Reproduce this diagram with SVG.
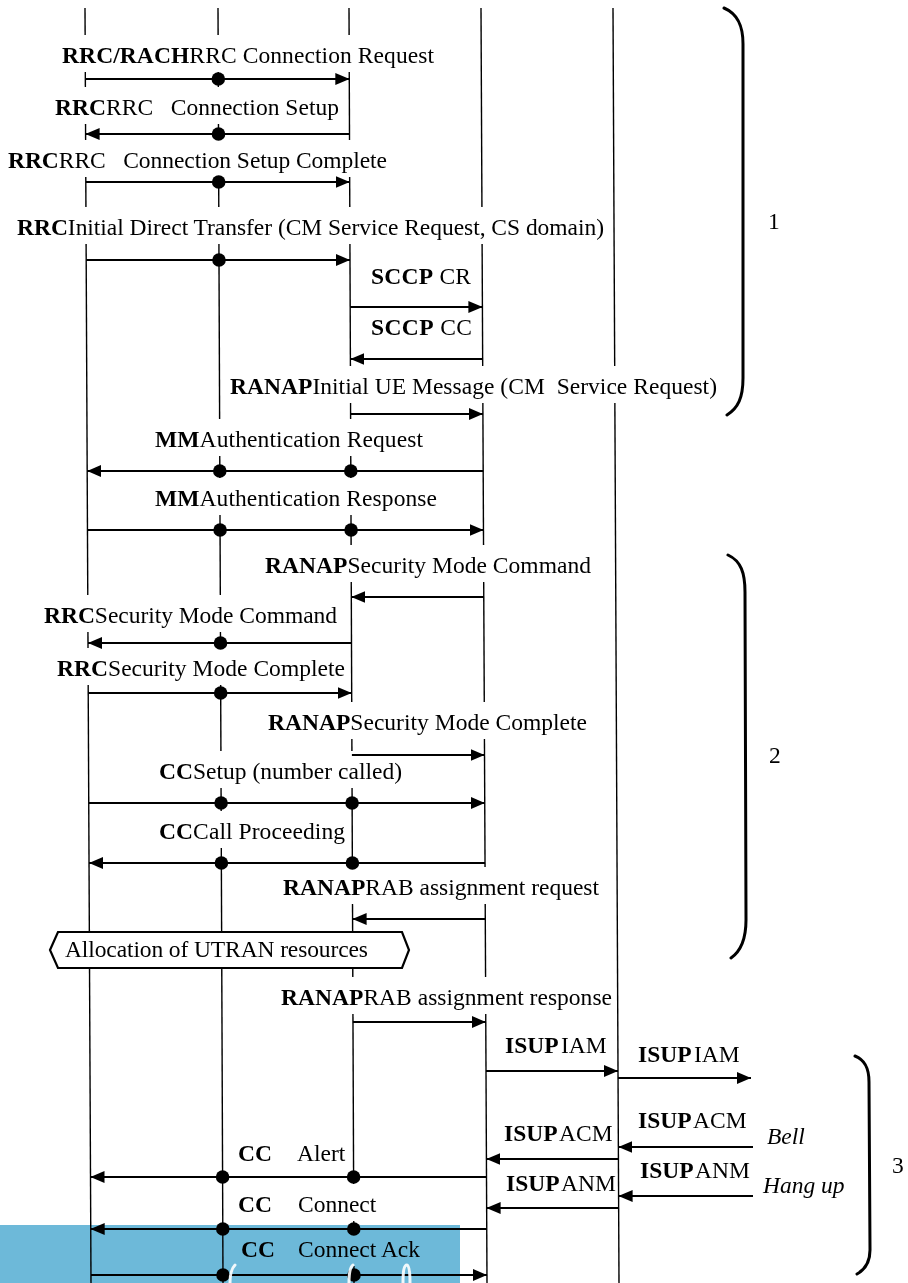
<svg xmlns="http://www.w3.org/2000/svg" width="908" height="1283" viewBox="0 0 908 1283">
  <defs>
    <marker id="ah" markerUnits="userSpaceOnUse" markerWidth="14" markerHeight="12" refX="14" refY="6" orient="auto">
      <path d="M0,0 L14,6 L0,12 z" fill="#000"/>
    </marker>
    <style>
      .ll { stroke: #000; stroke-width: 1.4; }
      .msg { stroke: #000; stroke-width: 2; fill: none; marker-end: url(#ah); }
      .dot { fill: #000; }
      .bg { fill: #fff; }
      text { font-family: "Liberation Serif", "Times New Roman", serif; font-size: 23.5px; fill: #000; }
      .b { font-weight: bold; }
      .i { font-style: italic; }
      .brace { fill: none; stroke: #000; stroke-width: 3; stroke-linecap: round; }
      .hex { fill: #fff; stroke: #000; stroke-width: 2.2; }
    </style>
  </defs>
  <rect width="908" height="1283" fill="#fff"/>

  <!-- lifelines (slightly skewed as printed) -->
  <g id="lifelines">
    <line id="ll-ue" class="ll" x1="85" y1="8" x2="91" y2="1283"/>
    <line id="ll-nodeb" class="ll" x1="218" y1="8" x2="223" y2="1283"/>
    <line id="ll-rnc" class="ll" x1="349" y1="8" x2="354" y2="1283"/>
    <line id="ll-msc" class="ll" x1="481" y1="8" x2="487" y2="1283"/>
    <line id="ll-gmsc" class="ll" x1="613" y1="8" x2="619" y2="1283"/>
  </g>

  <!-- message labels -->
  <g id="m1"><rect class="bg" x="59" y="35" width="378" height="37"/>
    <text x="62" y="63" textLength="372"><tspan class="b">RRC/RACH</tspan>RRC Connection Request</text></g>
  <g id="m2"><rect class="bg" x="52" y="87" width="290" height="37"/>
    <text x="55" y="115" textLength="284"><tspan class="b">RRC</tspan>RRC&#160;&#160;&#160;Connection Setup</text></g>
  <g id="m3"><rect class="bg" x="5" y="140" width="385" height="37"/>
    <text x="8" y="168" textLength="379"><tspan class="b">RRC</tspan>RRC&#160;&#160;&#160;Connection Setup Complete</text></g>
  <g id="m4"><rect class="bg" x="14" y="207" width="593" height="37"/>
    <text x="17" y="235" textLength="587"><tspan class="b">RRC</tspan>Initial Direct Transfer (CM Service Request, CS domain)</text></g>
  <g id="m5"><text x="371" y="284" textLength="100"><tspan class="b">SCCP</tspan> CR</text></g>
  <g id="m6"><text x="371" y="335" textLength="101"><tspan class="b">SCCP</tspan> CC</text></g>
  <g id="m7"><rect class="bg" x="227" y="366" width="493" height="37"/>
    <text x="230" y="394" textLength="487"><tspan class="b">RANAP</tspan>Initial UE Message (CM&#160; Service Request)</text></g>
  <g id="m8"><rect class="bg" x="152" y="419" width="274" height="37"/>
    <text x="155" y="447" textLength="268"><tspan class="b">MM</tspan>Authentication Request</text></g>
  <g id="m9"><rect class="bg" x="152" y="478" width="288" height="37"/>
    <text x="155" y="506" textLength="282"><tspan class="b">MM</tspan>Authentication Response</text></g>
  <g id="m10"><rect class="bg" x="262" y="545" width="332" height="37"/>
    <text x="265" y="573" textLength="326"><tspan class="b">RANAP</tspan>Security Mode Command</text></g>
  <g id="m11"><rect class="bg" x="41" y="595" width="299" height="37"/>
    <text x="44" y="623" textLength="293"><tspan class="b">RRC</tspan>Security Mode Command</text></g>
  <g id="m12"><rect class="bg" x="54" y="648" width="294" height="37"/>
    <text x="57" y="676" textLength="288"><tspan class="b">RRC</tspan>Security Mode Complete</text></g>
  <g id="m13"><rect class="bg" x="265" y="702" width="325" height="37"/>
    <text x="268" y="730" textLength="319"><tspan class="b">RANAP</tspan>Security Mode Complete</text></g>
  <g id="m14"><rect class="bg" x="156" y="751" width="249" height="37"/>
    <text x="159" y="779" textLength="243"><tspan class="b">CC</tspan>Setup (number called)</text></g>
  <g id="m15"><rect class="bg" x="156" y="811" width="192" height="37"/>
    <text x="159" y="839" textLength="186"><tspan class="b">CC</tspan>Call Proceeding</text></g>
  <g id="m16"><rect class="bg" x="280" y="867" width="322" height="37"/>
    <text x="283" y="895" textLength="316"><tspan class="b">RANAP</tspan>RAB assignment request</text></g>
  <g id="utran-alloc">
    <polygon class="hex" points="50,950 58,932 402,932 409,950 402,968 58,968"/>
    <text x="65" y="957" textLength="303">Allocation of UTRAN resources</text>
  </g>
  <g id="m18"><rect class="bg" x="278" y="977" width="337" height="37"/>
    <text x="281" y="1005" textLength="331"><tspan class="b">RANAP</tspan>RAB assignment response</text></g>
  <g id="m19"><text class="b" x="505" y="1053">ISUP</text><text x="561" y="1053">IAM</text></g>
  <g id="m20"><text class="b" x="638" y="1062">ISUP</text><text x="694" y="1062">IAM</text></g>
  <g id="m21"><text class="b" x="638" y="1128">ISUP</text><text x="693" y="1128">ACM</text></g>
  <g id="bell"><text class="i" x="767" y="1144">Bell</text></g>
  <g id="m23"><text class="b" x="504" y="1141">ISUP</text><text x="559" y="1141">ACM</text></g>
  <g id="m24"><text class="b" x="640" y="1178">ISUP</text><text x="695" y="1178">ANM</text></g>
  <g id="hangup"><text class="i" x="763" y="1193">Hang up</text></g>
  <g id="m26"><text class="b" x="506" y="1191">ISUP</text><text x="561" y="1191">ANM</text></g>
  <g id="m27"><text class="b" x="238" y="1161">CC</text><text x="297" y="1161">Alert</text></g>
  <g id="m28"><rect class="bg" x="295" y="1184" width="83" height="37"/>
    <text class="b" x="238" y="1212">CC</text><text x="298" y="1212">Connect</text></g>
  <g id="m29"><rect class="bg" x="295" y="1229" width="126" height="37"/>
    <text class="b" x="241" y="1257">CC</text><text x="298" y="1257">Connect Ack</text></g>

  <!-- message arrows and relay points -->
  <g id="connectors">
    <path class="msg" d="M85.4,79 H349.3"/>
    <path class="msg" d="M349.5,134 H85.6"/>
    <path class="msg" d="M85.9,182 H349.7"/>
    <path class="msg" d="M86.2,260 H350"/>
    <path class="msg" d="M350.2,307 H482.4"/>
    <path class="msg" d="M482.7,359 H350.4"/>
    <path class="msg" d="M350.6,414 H482.9"/>
    <path class="msg" d="M483.2,471 H87.2"/>
    <path class="msg" d="M87.5,530 H483.5"/>
    <path class="msg" d="M483.8,597 H351.3"/>
    <path class="msg" d="M351.5,643 H88"/>
    <path class="msg" d="M88.2,693 H351.7"/>
    <path class="msg" d="M351.9,755 H484.5"/>
    <path class="msg" d="M88.8,803 H484.8"/>
    <path class="msg" d="M485,863 H89"/>
    <path class="msg" d="M485.3,919 H352.6"/>
    <path class="msg" d="M353,1022 H485.8"/>
    <path class="msg" d="M486,1071 H618"/>
    <path class="msg" d="M618,1078 H751"/>
    <path class="msg" d="M753,1147 H618.4"/>
    <path class="msg" d="M618.4,1159 H486.4"/>
    <path class="msg" d="M486.5,1177 H90.5"/>
    <path class="msg" d="M753,1196 H618.6"/>
    <path class="msg" d="M618.6,1208 H486.6"/>
    <path class="msg" d="M486.7,1229 H90.7"/>
    <path class="msg" d="M91,1275 H487"/>

    <circle class="dot" cx="218.3" cy="79" r="6.8"/>
    <circle class="dot" cx="218.5" cy="134" r="6.8"/>
    <circle class="dot" cx="218.7" cy="182" r="6.8"/>
    <circle class="dot" cx="219" cy="260" r="6.8"/>
    <circle class="dot" cx="219.8" cy="471" r="6.8"/>
    <circle class="dot" cx="350.8" cy="471" r="6.8"/>
    <circle class="dot" cx="220.1" cy="530" r="6.8"/>
    <circle class="dot" cx="351.1" cy="530" r="6.8"/>
    <circle class="dot" cx="220.5" cy="643" r="6.8"/>
    <circle class="dot" cx="220.7" cy="693" r="6.8"/>
    <circle class="dot" cx="221.1" cy="803" r="6.8"/>
    <circle class="dot" cx="352.1" cy="803" r="6.8"/>
    <circle class="dot" cx="221.4" cy="863" r="6.8"/>
    <circle class="dot" cx="352.4" cy="863" r="6.8"/>
    <circle class="dot" cx="222.6" cy="1177" r="6.8"/>
    <circle class="dot" cx="353.6" cy="1177" r="6.8"/>
    <circle class="dot" cx="222.8" cy="1229" r="6.8"/>
    <circle class="dot" cx="353.8" cy="1229" r="6.8"/>
    <circle class="dot" cx="223" cy="1275" r="6.8"/>
    <circle class="dot" cx="354" cy="1275" r="6.8"/>
  </g>

  <!-- phase braces -->
  <g id="phase-1">
    <path class="brace" d="M724,8 C738,14 743,26 743,44 L743,378 C743,398 738,408 727,415"/>
    <text x="768" y="229">1</text>
  </g>
  <g id="phase-2">
    <path class="brace" d="M728,555 C741,561 745,573 745,592 L746,920 C746,940 741,951 731,958"/>
    <text x="769" y="763">2</text>
  </g>
  <g id="phase-3">
    <path class="brace" d="M855,1056 C865,1060 869,1068 869,1082 L870,1250 C870,1262 866,1269 857,1274"/>
    <text x="892" y="1173">3</text>
  </g>

  <!-- blue band at the bottom left -->
  <rect x="0" y="1225" width="460" height="58" fill="#6db9d9" style="mix-blend-mode:multiply"/>
  <g fill="none" stroke="#fff" stroke-width="3" stroke-linecap="round" opacity="0.9">
    <path d="M230,1283 C230,1274 232,1268 235,1265"/>
    <path d="M349,1283 C349,1273 350,1267 353,1265"/>
    <path d="M403,1283 C403,1271 404,1265 407,1265 C409,1265 410,1271 410,1283"/>
  </g>
</svg>
